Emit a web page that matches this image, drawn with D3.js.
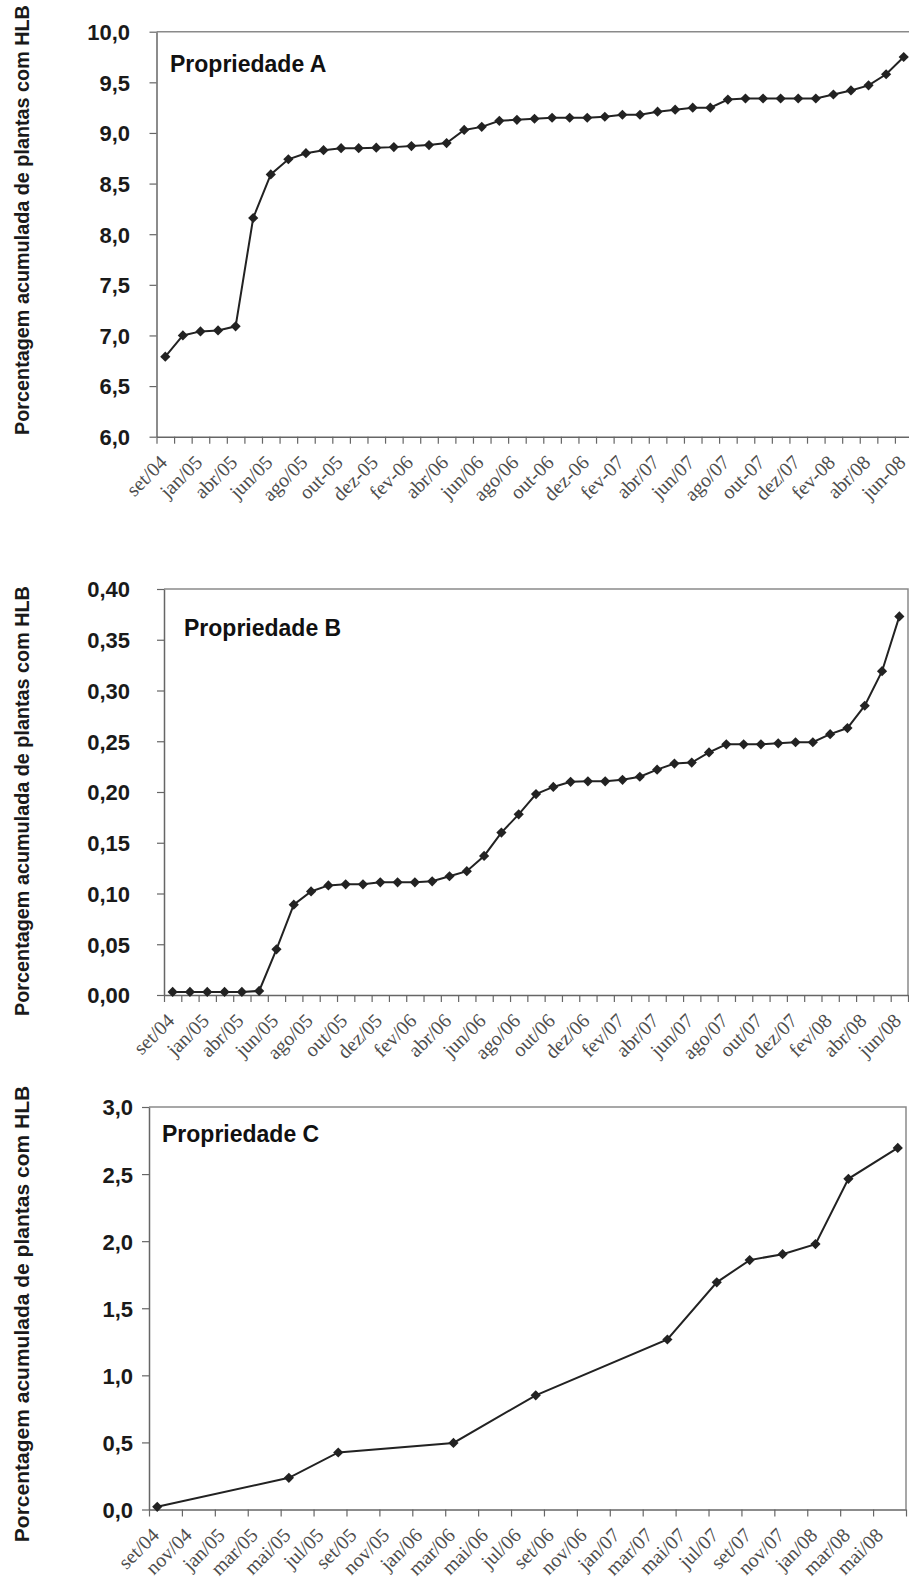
<!DOCTYPE html>
<html><head><meta charset="utf-8">
<script src="https://cdn.jsdelivr.net/npm/d3@7"></script>
<style>body{margin:0;background:#fff} svg{display:block}</style>
</head><body><svg id="c" width="909" height="1592"></svg>
<script>
const yTitle = "Porcentagem acumulada de plantas com HLB";

// Propriedade A — 43 sampling dates, every other one labelled
const labelsA = ["set/04","jan/05","abr/05","jun/05","ago/05","out-05","dez-05","fev-06","abr/06","jun/06","ago/06","out-06","dez-06","fev-07","abr/07","jun/07","ago/07","out-07","dez/07","fev-08","abr/08","jun-08"];
const valuesA = [6.79,7.00,7.04,7.05,7.09,8.16,8.59,8.74,8.80,8.83,8.85,8.85,8.855,8.86,8.87,8.88,8.90,9.03,9.06,9.12,9.13,9.14,9.15,9.15,9.15,9.16,9.18,9.18,9.21,9.23,9.25,9.25,9.33,9.34,9.34,9.34,9.34,9.34,9.38,9.42,9.47,9.58,9.75];
const yTicksA = [6.0,6.5,7.0,7.5,8.0,8.5,9.0,9.5,10.0];

// Propriedade B
const labelsB = ["set/04","jan/05","abr/05","jun/05","ago/05","out/05","dez/05","fev/06","abr/06","jun/06","ago/06","out/06","dez/06","fev/07","abr/07","jun/07","ago/07","out/07","dez/07","fev/08","abr/08","jun/08"];
const valuesB = [0.003,0.003,0.003,0.003,0.003,0.004,0.045,0.089,0.102,0.108,0.109,0.109,0.111,0.111,0.111,0.112,0.117,0.122,0.137,0.160,0.178,0.198,0.205,0.210,0.2105,0.2105,0.212,0.215,0.222,0.228,0.229,0.239,0.247,0.247,0.247,0.248,0.249,0.249,0.257,0.263,0.285,0.319,0.373];
const yTicksB = [0,0.05,0.10,0.15,0.20,0.25,0.30,0.35,0.40];

// Propriedade C — monthly date axis
const monthsC = ["set/04","out/04","nov/04","dez/04","jan/05","fev/05","mar/05","abr/05","mai/05","jun/05","jul/05","ago/05","set/05","out/05","nov/05","dez/05","jan/06","fev/06","mar/06","abr/06","mai/06","jun/06","jul/06","ago/06","set/06","out/06","nov/06","dez/06","jan/07","fev/07","mar/07","abr/07","mai/07","jun/07","jul/07","ago/07","set/07","out/07","nov/07","dez/07","jan/08","fev/08","mar/08","abr/08","mai/08","jun/08"];
const labelsC = ["set/04","nov/04","jan/05","mar/05","mai/05","jul/05","set/05","nov/05","jan/06","mar/06","mai/06","jul/06","set/06","nov/06","jan/07","mar/07","mai/07","jul/07","set/07","nov/07","jan/08","mar/08","mai/08"];
const datesC  = ["set/04","mai/05","ago/05","mar/06","ago/06","abr/07","jul/07","set/07","nov/07","jan/08","mar/08","jun/08"];
const valuesC = [0.02,0.236,0.425,0.496,0.851,1.267,1.693,1.859,1.903,1.978,2.465,2.695];
const yTicksC = [0,0.5,1.0,1.5,2.0,2.5,3.0];

const svg = d3.select("#c");
const comma = f => v => d3.format(f)(v).replace(".", ",");

function panel(cfg){
  const g = svg.append("g");
  const n = cfg.n;
  const x = d3.scaleLinear().domain([-0.5, n - 0.5]).range([cfg.left, cfg.right]);
  const y = d3.scaleLinear().domain(cfg.yDomain).range([cfg.bottom, cfg.top]);

  // frame (top + right)
  g.append("path")
    .attr("d", `M${cfg.left},${cfg.top}H${cfg.right}V${cfg.bottom}`)
    .attr("fill","none").attr("stroke","#8a8a8a").attr("stroke-width",1.5);

  // y axis
  const ya = g.append("g").attr("transform",`translate(${cfg.left},0)`)
    .call(d3.axisLeft(y).tickValues(cfg.yTicks).tickFormat(comma(cfg.fmt)).tickSize(7).tickSizeOuter(0));
  ya.select(".domain").attr("stroke","#666").attr("stroke-width",1.5);
  ya.selectAll(".tick line").attr("stroke","#666").attr("stroke-width",1.2);
  ya.selectAll(".tick text")
    .attr("x", cfg.labelRight - cfg.left)
    .attr("dy","0.36em")
    .attr("fill","#1a1a1a")
    .style("font-family","'Liberation Sans', Arial, sans-serif")
    .style("font-weight","bold").style("font-size", cfg.tickFont + "px");

  // x axis
  const xa = g.append("g").attr("transform",`translate(0,${cfg.bottom})`)
    .call(d3.axisBottom(x).tickValues(cfg.xTickVals).tickFormat("").tickSize(7).tickSizeOuter(0));
  xa.select(".domain").attr("stroke","#666").attr("stroke-width",1.5);
  xa.selectAll(".tick line").attr("stroke","#666").attr("stroke-width",1.2);

  // rotated x labels
  g.append("g").selectAll("text").data(cfg.xLabels).join("text")
    .attr("transform", d => `translate(${x(d.i) + 3},${cfg.bottom + 27}) rotate(-45)`)
    .attr("text-anchor","end")
    .attr("fill","#4d4d4d")
    .style("font-family","'Liberation Serif', 'Times New Roman', serif")
    .style("font-size","20px")
    .text(d => d.t);

  // line + markers
  const line = d3.line().x(d => x(d.i)).y(d => y(d.v));
  g.append("path").datum(cfg.data).attr("d", line)
    .attr("fill","none").attr("stroke","#222").attr("stroke-width",2);
  const sym = d3.symbol(d3.symbolSquare, 52);
  g.append("g").selectAll("path").data(cfg.data).join("path")
    .attr("transform", d => `translate(${x(d.i)},${y(d.v)}) rotate(45)`)
    .attr("d", sym).attr("fill","#222");

  // panel title
  g.append("text").attr("x", cfg.titleX).attr("y", cfg.titleY)
    .attr("fill","#111")
    .style("font-family","'Liberation Sans', Arial, sans-serif")
    .style("font-weight","bold").style("font-size","23px")
    .text(cfg.title);

  // y axis title
  g.append("text")
    .attr("transform", `translate(28.5,${cfg.yTitleY}) rotate(-90)`)
    .attr("text-anchor","middle")
    .attr("fill","#1a1a1a")
    .style("font-family","'Liberation Sans', Arial, sans-serif")
    .style("font-weight","bold").style("font-size", cfg.yTitleFont + "px")
    .text(yTitle);
}

panel({
  n: valuesA.length, left: 156.5, right: 912.5, top: 31.7, bottom: 436.7,
  yDomain: [6, 10], yTicks: yTicksA, fmt: ".1f", labelRight: 130, tickFont: 22,
  xTickVals: d3.range(valuesA.length + 1).map(i => i - 0.5),
  xLabels: labelsA.map((t, k) => ({t, i: 2 * k})),
  data: valuesA.map((v, i) => ({i, v})),
  title: "Propriedade A", titleX: 170, titleY: 71.7,
  yTitleY: 220, yTitleFont: 19.8
});

panel({
  n: valuesB.length, left: 164, right: 908, top: 589, bottom: 995,
  yDomain: [0, 0.4], yTicks: yTicksB, fmt: ".2f", labelRight: 130, tickFont: 22,
  xTickVals: d3.range(valuesB.length + 1).map(i => i - 0.5),
  xLabels: labelsB.map((t, k) => ({t, i: 2 * k})),
  data: valuesB.map((v, i) => ({i, v})),
  title: "Propriedade B", titleX: 184, titleY: 636,
  yTitleY: 801, yTitleFont: 19.8
});

panel({
  n: monthsC.length, left: 149, right: 906, top: 1107, bottom: 1509.5,
  yDomain: [0, 3], yTicks: yTicksC, fmt: ".1f", labelRight: 133, tickFont: 22,
  xTickVals: d3.range(0, monthsC.length + 1, 2).map(i => i - 0.5),
  xLabels: labelsC.map(t => ({t, i: monthsC.indexOf(t)})),
  data: valuesC.map((v, k) => ({i: monthsC.indexOf(datesC[k]), v})),
  title: "Propriedade C", titleX: 162, titleY: 1141.7,
  yTitleY: 1314, yTitleFont: 21
});
</script>
</body></html>
